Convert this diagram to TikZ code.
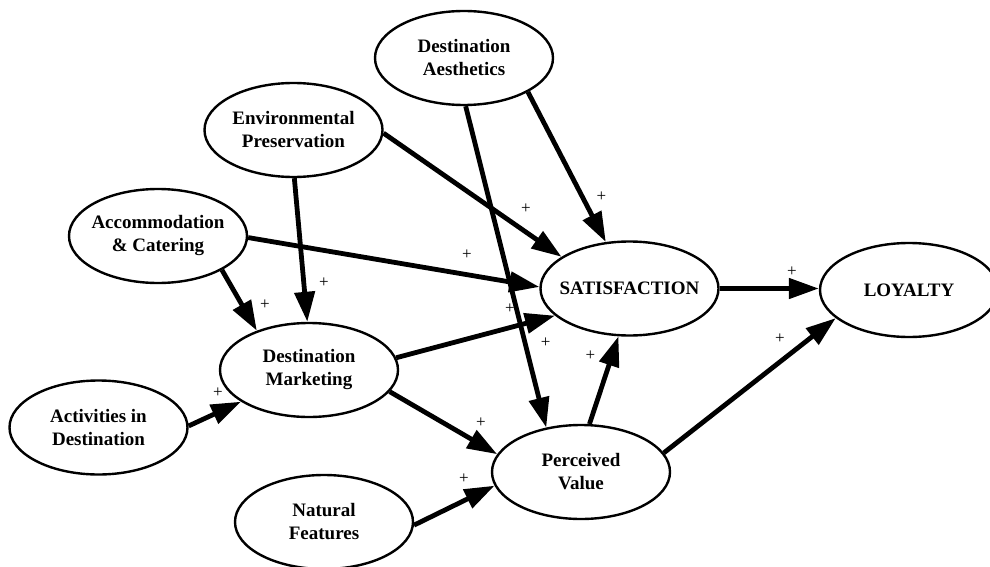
\documentclass[tikz,border=0pt]{standalone}
\usepackage{fontspec}
\setmainfont{Liberation Serif}
\usetikzlibrary{arrows.meta,shapes.geometric}
\begin{document}
\begin{tikzpicture}[x=1pt,y=-1pt,
 ell/.style={ellipse,draw,line width=2.4pt,minimum width=178pt,minimum height=94pt,inner sep=0pt},
 lbl/.style={font=\fontsize{19}{23}\selectfont\bfseries,align=center,inner sep=0pt},
 conn/.style={line width=4.8pt,-{Triangle[length=30pt,width=20pt]}},
 plus/.style={font=\fontsize{17}{17}\selectfont,inner sep=0pt}]
\useasboundingbox (0,0) rectangle (990,567);
% ellipses
\node[ell] (da) at (464,58) {};
\node[ell] (ep) at (293.5,130) {};
\node[ell] (ac) at (158,236) {};
\node[ell] (sat) at (629.5,288.5) {};
\node[ell] (loy) at (909,290) {};
\node[ell] (dm) at (309,370) {};
\node[ell] (ad) at (98.5,427.5) {};
\node[ell] (nf) at (324,522) {};
\node[ell] (pv) at (581,472) {};
% labels
\node[lbl] (daT) at (da) {Destination\\Aesthetics};
\node[lbl] (epT) at (ep) {Environmental\\Preservation};
\node[lbl] (acT) at (ac) {Accommodation\\\& Catering};
\node[lbl] (satT) at (sat) {SATISFACTION};
\node[lbl] (loyT) at (loy) {LOYALTY};
\node[lbl] (dmT) at (dm) {Destination\\Marketing};
\node[lbl] (adT) at (ad) {Activities in\\Destination};
\node[lbl] (nfT) at (nf) {Natural\\Features};
\node[lbl] (pvT) at (pv) {Perceived\\Value};
% connectors
\draw[conn] (ep.-89) -- (dm.92);
\draw[conn] (ac.-28) -- (dm.143);
\draw[conn] (ac.-1) -- (sat.179);
\draw[conn] (ep.-2) -- (sat.155);
\draw[conn] (da.-28) -- (sat.117);
\draw[conn] (da.-88) -- (pv.128);
\draw[conn] (sat.east) -- (sat.east -| loy.west);
\draw[conn] (dm.8) -- (sat.200);
\draw[conn] (dm.-15) -- (pv.168);
\draw[conn] (ad.1) -- (dm.205);
\draw[conn] (nf.-2) -- (pv.189);
\draw[conn] (pv.80) -- (sat.257);
\draw[conn] (pv.13) -- (loy.201);
% plus signs
\node[plus] (p1) at (324,283) {+};
\node[plus] (p2) at (265,305) {+};
\node[plus] (p3) at (467,255) {+};
\node[plus] (p4) at (526,209) {+};
\node[plus] (p5) at (601.5,197) {+};
\node[plus] (p6) at (792,272) {+};
\node[plus] (p7) at (545.7,343) {+};
\node[plus] (p8) at (510,309) {+};
\node[plus] (p9) at (590.5,356) {+};
\node[plus] (p10) at (780,339) {+};
\node[plus] (p11) at (481,423) {+};
\node[plus] (p12) at (464,479) {+};
\node[plus] (p13) at (218,393) {+};
\end{tikzpicture}
\end{document}
